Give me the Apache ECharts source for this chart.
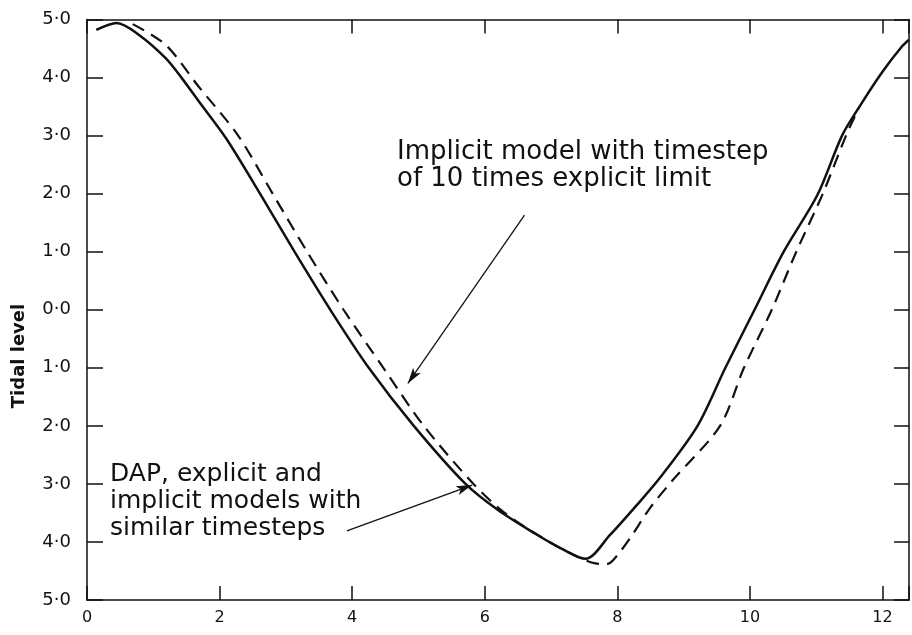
<!DOCTYPE html>
<html>
<head>
<meta charset="utf-8">
<script src="https://cdn.jsdelivr.net/npm/echarts@6/dist/echarts.min.js"></script>
<style>
html,body{margin:0;padding:0;background:#fff;}
#chart{width:912px;height:635px;}
</style>
</head>
<body>
<div id="chart"></div>
<script>
// ---- data ----
const xTickLabels = [0, 2, 4, 6, 8, 10, 12];
const yTickValues = [5, 4, 3, 2, 1, 0, -1, -2, -3, -4, -5];

// Solid: DAP, explicit and implicit models with similar timesteps
const solidX = [0.14, 0.45, 0.79, 1.19, 1.43, 1.68, 2.10, 2.61, 3.13, 3.67, 4.25, 4.93, 5.71, 6.20, 6.75, 7.15, 7.52, 7.89, 8.29, 8.64, 9.21, 9.63, 10.07, 10.51, 11.02, 11.39, 11.67, 12.00, 12.29, 12.40];
const solidY = [4.82, 4.94, 4.73, 4.33, 3.99, 3.60, 2.95, 2.00, 1.00, 0.00, -1.00, -2.00, -3.00, -3.45, -3.85, -4.11, -4.29, -3.88, -3.37, -2.90, -2.00, -1.00, 0.00, 1.00, 1.98, 3.00, 3.53, 4.10, 4.53, 4.65];

// Dashed: implicit model with timestep of 10 times explicit limit
const dashX = [0.69, 1.19, 1.68, 2.28, 2.80, 3.32, 3.87, 4.47, 5.08, 5.83, 6.30, 6.90, 7.30, 7.67, 7.84, 7.94, 8.19, 8.49, 8.84, 9.55, 9.91, 10.33, 10.70, 11.10, 11.45, 11.64];
const dashY = [4.92, 4.56, 3.85, 3.00, 2.00, 1.00, 0.00, -1.00, -2.00, -3.00, -3.50, -3.95, -4.20, -4.37, -4.38, -4.31, -3.94, -3.42, -2.93, -2.00, -1.00, 0.00, 1.00, 2.00, 3.00, 3.47];

// annotation arrows (data coordinates)
const arrowImplicit = [[6.60, 1.63], [4.84, -1.27]];
const arrowDAP = [[3.92, -3.81], [5.81, -3.02]];

const textImplicit = 'Implicit model with timestep\nof 10 times explicit limit';
const textDAP = 'DAP, explicit and\nimplicit models with\nsimilar timesteps';
const yAxisTitle = 'Tidal level';

const solidData = solidX.map((x, i) => [x, solidY[i]]);
const dashData = dashX.map((x, i) => [x, dashY[i]]);

const FONT = '"DejaVu Sans", sans-serif';
const INK = '#111';

const chart = echarts.init(document.getElementById('chart'), null, {renderer: 'canvas'});
const axisLine = {show: true, onZero: false, lineStyle: {color: INK, width: 1.5}};
const tick = (len) => ({show: true, inside: true, length: len, lineStyle: {color: INK, width: 1.5}});

chart.setOption({
  animation: false,
  backgroundColor: '#fff',
  grid: {left: 87, top: 19.5, width: 832, height: 580.5, containLabel: false},
  xAxis: [
    {type: 'value', position: 'bottom', min: 0, max: 12.4, interval: 2,
     axisLine: axisLine, axisTick: tick(14), splitLine: {show: false},
     axisLabel: {show: true, margin: 10, color: INK, fontFamily: FONT, fontSize: 16,
       formatter: v => xTickLabels.indexOf(v) >= 0 ? String(v) : ''}},
    {type: 'value', position: 'top', min: 0, max: 12.4, interval: 2,
     axisLine: axisLine, axisTick: tick(14), splitLine: {show: false}, axisLabel: {show: false}}
  ],
  yAxis: [
    {type: 'value', position: 'left', min: -5, max: 5, interval: 1,
     axisLine: axisLine, axisTick: tick(16), splitLine: {show: false},
     axisLabel: {show: true, margin: 16, color: INK, fontFamily: FONT, fontSize: 18,
       formatter: v => yTickValues.indexOf(v) >= 0 ? Math.abs(v).toFixed(1).replace('.', '\u00B7') : ''}},
    {type: 'value', position: 'right', min: -5, max: 5, interval: 1,
     axisLine: axisLine, axisTick: tick(15), splitLine: {show: false}, axisLabel: {show: false}}
  ],
  series: [
    {type: 'line', name: 'DAP, explicit and implicit models with similar timesteps',
     data: solidData, showSymbol: false, smooth: 0.3, clip: true,
     lineStyle: {color: INK, width: 2.5},
     markLine: {silent: true, symbol: ['none', 'arrow'], symbolSize: [7, 16],
       label: {show: false}, lineStyle: {color: INK, width: 1.3, type: 'solid'},
       data: [
         [{coord: arrowImplicit[0]}, {coord: arrowImplicit[1]}],
         [{coord: arrowDAP[0]}, {coord: arrowDAP[1]}]
       ]}},
    {type: 'line', name: 'Implicit model with timestep of 10 times explicit limit',
     data: dashData, showSymbol: false, smooth: 0.3, clip: true,
     lineStyle: {color: INK, width: 2.2, type: [13, 8]}}
  ],
  graphic: [
    {type: 'text', x: 397, y: 139, style: {text: textImplicit, fill: INK, fontFamily: FONT, fontSize: 26, lineHeight: 27, textVerticalAlign: 'top'}},
    {type: 'text', x: 110, y: 461, style: {text: textDAP, fill: INK, fontFamily: FONT, fontSize: 25, lineHeight: 27, textVerticalAlign: 'top'}},
    {type: 'text', x: 19, y: 356, rotation: Math.PI / 2, style: {text: yAxisTitle, fill: INK, fontFamily: FONT, fontSize: 18, fontWeight: 'bold', textAlign: 'center', textVerticalAlign: 'middle'}}
  ]
});
</script>
</body>
</html>
